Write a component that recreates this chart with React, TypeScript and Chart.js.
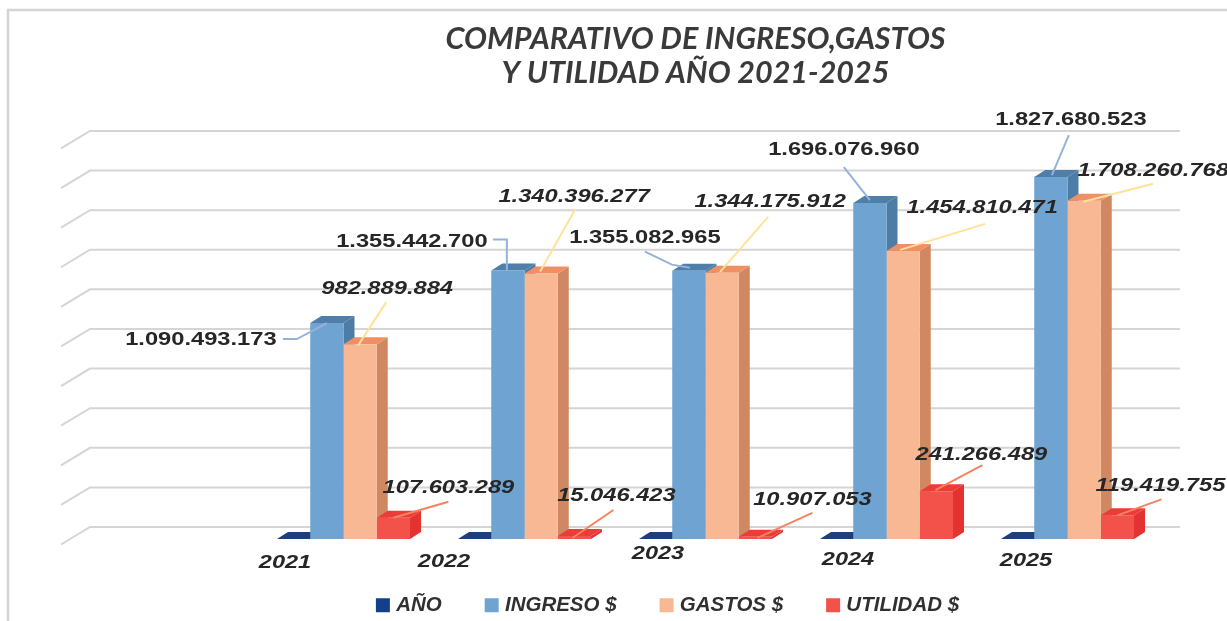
import React, { useEffect, useRef } from "react";
import { Chart, registerables } from "chart.js";

Chart.register(...registerables);

const categories = ["2021", "2022", "2023", "2024", "2025"];
const anio = [2021, 2022, 2023, 2024, 2025];
const ingreso = [1090493173, 1355442700, 1355082965, 1696076960, 1827680523];
const gastos = [982889884, 1340396277, 1344175912, 1454810471, 1708260768];
const utilidad = [107603289, 15046423, 10907053, 241266489, 119419755];
const titleLines = ["COMPARATIVO DE INGRESO,GASTOS", "Y UTILIDAD AÑO 2021-2025"];

// Layout: offsets from the top-centre of each bar / from the axis, kept apart from the data
const labelOffsets: Record<number, number[][]> = {
  1: [[-126, 17], [-96, -29], [-44, -33], [-26, -53], [20, -57]],
  2: [[27, -55], [33, -77], [48, -71], [79, -43], [69, -30]],
  3: [[55, -30], [42, -40], [57, -37], [45, -36], [43, -29]],
};
const leaderOffsets: Record<number, number[][][]> = {
  1: [
    [[-44, 16], [-30, 16], [0, 0]],
    [[-15, -31], [-1, -31], [-1, 0]],
    [[-44, -19], [-17, -6], [1, -3]],
    [[-26, -36], [0, -3]],
    [[18, -42], [1, -2]],
  ],
  2: [
    [[26, -42], [-2, 1]],
    [[34, -64], [-1, -2]],
    [[46, -56], [-2, -1]],
    [[82, -27], [-3, -1]],
    [[69, -17], [-1, 1]],
  ],
  3: [
    [[55, -16], [0, 0]],
    [[39, -26], [-2, 2]],
    [[57, -24], [2, 1]],
    [[46, -26], [-1, -1]],
    [[44, -16], [0, 0]],
  ],
};
const tickOffsets = [[-58.5, 23.5], [-80.5, 23], [-47.5, 15], [-38.5, 21], [-41.5, 22]];

const frontColors = ["#12408a", "#6fa4d2", "#f9b894", "#f2524a"];
const sideColors = ["#1c3f7d", "#4d7ca6", "#d08863", "#e3322f"];
const topColors = ["#1c3f7d", "#4f7fa9", "#f08f63", "#ec3c37"];
const leaderColors: Record<number, string> = { 1: "#93b3da", 2: "#ffe19a", 3: "#f5835f" };
const DEPTH_X = 11;
const DEPTH_Y = 7;
const LABEL_STRETCH = 1.28;
const TICK_STRETCH = 1.24;
const LABEL_FAMILY = '"Liberation Sans"';

const formatValue = (v: number) => String(v).replace(/\B(?=(\d{3})+(?!\d))/g, ".");

function stretchedText(ctx: CanvasRenderingContext2D, text: string, x: number, y: number, stretch: number) {
  ctx.save();
  ctx.translate(x, y);
  ctx.scale(stretch, 1);
  ctx.textAlign = "center";
  ctx.textBaseline = "middle";
  ctx.fillText(text, 0, 0);
  ctx.restore();
}

function poly(ctx: CanvasRenderingContext2D, pts: number[][], color: string) {
  ctx.fillStyle = color;
  ctx.beginPath();
  pts.forEach((p, i) => (i ? ctx.lineTo(p[0], p[1]) : ctx.moveTo(p[0], p[1])));
  ctx.closePath();
  ctx.fill();
}

const scene3d = {
  id: "scene3d",
  afterLayout(chart: any) {
    chart.titleBlock.left += -10;
    chart.titleBlock.right += -10;
    chart.legend.left += -36;
    chart.legend.right += -36;
    chart.legend.top += 9;
    chart.legend.bottom = 621;
  },
  beforeDatasetsDraw(chart: any) {
    const { ctx, chartArea, scales } = chart;
    ctx.save();
    // frame
    ctx.strokeStyle = "#d4d4d4";
    ctx.lineWidth = 2.5;
    ctx.beginPath();
    ctx.moveTo(8, 621);
    ctx.lineTo(8, 10);
    ctx.lineTo(1227, 10);
    ctx.stroke();
    // grid of the back wall, with its slanted left wall
    ctx.strokeStyle = "#d5d5d5";
    ctx.lineWidth = 2;
    scales.y.ticks.forEach((t: any) => {
      const y = scales.y.getPixelForValue(t.value);
      ctx.beginPath();
      ctx.moveTo(chartArea.left - 192, y + 5.5);
      ctx.lineTo(chartArea.left - 163, y - 12);
      ctx.lineTo(chartArea.right + 22, y - 12);
      ctx.stroke();
    });
    // depth faces
    categories.forEach((_, j) => {
      chart.data.datasets.forEach((_d: any, i: number) => {
        const el = chart.getDatasetMeta(i).data[j];
        const l = el.x - el.width / 2;
        const r = el.x + el.width / 2;
        const t = el.y;
        const b = el.base;
        poly(ctx, [[r, t], [r + DEPTH_X, t - DEPTH_Y], [r + DEPTH_X, b - DEPTH_Y], [r, b]], sideColors[i]);
        poly(ctx, [[l, t], [l + DEPTH_X, t - DEPTH_Y], [r + DEPTH_X, t - DEPTH_Y], [r, t]], topColors[i]);
      });
    });
    ctx.restore();
  },
  afterDatasetsDraw(chart: any) {
    const { ctx, chartArea, scales } = chart;
    ctx.save();
    // leaders first, value labels over them
    [1, 2, 3].forEach((i) => {
      const els = chart.getDatasetMeta(i).data;
      els.forEach((el: any, j: number) => {
        ctx.strokeStyle = leaderColors[i];
        ctx.lineWidth = 2;
        ctx.beginPath();
        leaderOffsets[i][j].forEach((p, k) => {
          if (k) ctx.lineTo(el.x + p[0], el.y + p[1]);
          else ctx.moveTo(el.x + p[0], el.y + p[1]);
        });
        ctx.stroke();
      });
    });
    ctx.fillStyle = "#262626";
    [1, 2, 3].forEach((i) => {
      ctx.font = `${i === 1 ? "" : "italic "}bold 18.5px ${LABEL_FAMILY}`;
      const values = chart.data.datasets[i].data;
      chart.getDatasetMeta(i).data.forEach((el: any, j: number) => {
        const o = labelOffsets[i][j];
        stretchedText(ctx, formatValue(values[j]), el.x + o[0], el.y + o[1], LABEL_STRETCH);
      });
    });
    // category labels
    ctx.font = `italic bold 19px ${LABEL_FAMILY}`;
    categories.forEach((c, j) => {
      const o = tickOffsets[j];
      stretchedText(ctx, c, scales.x.getPixelForValue(j) + o[0], chartArea.bottom + o[1], TICK_STRETCH);
    });
    ctx.restore();
  },
};

export default function App() {
  const ref = useRef<HTMLCanvasElement>(null);
  useEffect(() => {
    const chart = new Chart(ref.current as HTMLCanvasElement, {
      type: "bar",
      data: {
        labels: categories,
        datasets: [
          { label: "AÑO", data: anio, backgroundColor: frontColors[0], pointStyle: "rect" },
          { label: "INGRESO $", data: ingreso, backgroundColor: frontColors[1], pointStyle: "rect" },
          { label: "GASTOS $", data: gastos, backgroundColor: frontColors[2], pointStyle: "rect" },
          { label: "UTILIDAD $", data: utilidad, backgroundColor: frontColors[3], pointStyle: "rect" },
        ],
      },
      options: {
        animation: false,
        responsive: false,
        layout: { padding: { left: 253, right: 69, top: 0, bottom: 22 } },
        datasets: { bar: { barPercentage: 1, categoryPercentage: 0.735 } },
        scales: {
          x: {
            grid: { display: false, drawTicks: false },
            border: { display: false },
            ticks: { display: false },
          },
          y: {
            min: 0,
            max: 2000000000,
            grid: { display: false, drawTicks: false },
            border: { display: false },
            ticks: { display: false, stepSize: 200000000 },
          },
        },
        plugins: {
          tooltip: { enabled: false },
          title: {
            display: true,
            text: titleLines,
            color: "#3a3a3a",
            font: { family: "Lato", size: 30.5, style: "italic", weight: "bold", lineHeight: 1.12 },
            padding: { top: 22, bottom: 52.6 },
          },
          legend: {
            display: true,
            position: "bottom",
            maxHeight: 60,
            labels: {
              boxWidth: 6,
              boxHeight: 14,
              usePointStyle: true,
              padding: 47,
              color: "#303030",
              font: { family: "Liberation Sans", size: 20.5, style: "italic", weight: "bold" },
            },
          },
        },
      },
      plugins: [scene3d],
    } as any);
    return () => chart.destroy();
  }, []);
  return (
    <div style={{ position: "fixed", left: 0, top: 0, width: 1227, height: 621, background: "#fff" }}>
      <canvas ref={ref} width={1227} height={621} style={{ display: "block" }} />
    </div>
  );
}
